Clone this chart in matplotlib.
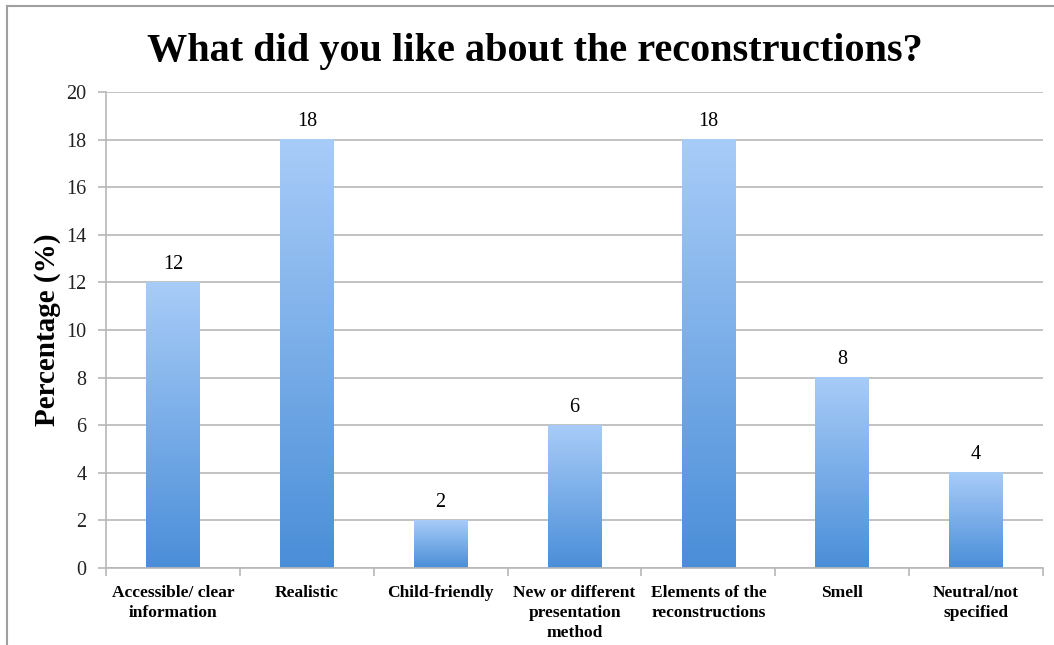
import numpy as np
import matplotlib.pyplot as plt
from matplotlib.colors import LinearSegmentedColormap
from matplotlib.lines import Line2D

plt.rcParams['font.family'] = ['Liberation Serif', 'DejaVu Serif']

categories = ['Accessible/ clear\ninformation', 'Realistic', 'Child-friendly',
              'New or different\npresentation\nmethod', 'Elements of the\nreconstructions',
              'Smell', 'Neutral/not\nspecified']
values = [12, 18, 2, 6, 18, 8, 4]

fig = plt.figure(figsize=(10.54, 6.45), dpi=100)
ax = fig.add_axes([0.1006, 0.1194, 0.8890, 0.7380])

# light at top, darker at bottom
cmap = LinearSegmentedColormap.from_list('bar', ['#4a8ed8', '#a8ccf8'])
grad = np.linspace(0, 1, 256).reshape(-1, 1)
width = 0.4
for i, v in enumerate(values):
    ax.imshow(grad, cmap=cmap, origin='lower', aspect='auto',
              extent=(i - width / 2, i + width / 2, 0, v), zorder=2)
    ax.text(i, v + 0.35, str(v), ha='center', va='bottom', fontsize=14.5)

ax.set_xlim(-0.5, len(values) - 0.5)
ax.set_ylim(0, 20)
ax.set_yticks(range(0, 21, 2))
ax.yaxis.grid(True, color='#b8b8b8', linewidth=1.2)
ax.set_axisbelow(True)
ax.set_xticks(np.arange(-0.5, len(values), 1))
ax.set_xticklabels([])
ax.set_xticks(range(len(values)), minor=True)
ax.set_xticklabels(categories, minor=True, fontsize=12.5, fontweight='bold',
                   linespacing=1.35)
ax.tick_params(axis='x', which='minor', length=0, pad=12)
ax.tick_params(axis='x', which='major', length=6, color='#b8b8b8', width=1.2)
ax.tick_params(axis='y', length=6, color='#b8b8b8', width=1.2, labelsize=14.5,
               pad=8, labelcolor='#222222')
for s in ['top', 'right']:
    ax.spines[s].set_visible(False)
for s in ['left', 'bottom']:
    ax.spines[s].set_color('#b8b8b8')
    ax.spines[s].set_linewidth(1.2)

ax.set_ylabel('Percentage (%)', fontsize=21, fontweight='bold', labelpad=4)
fig.text(0.507, 0.92, 'What did you like about the reconstructions?',
         ha='center', va='center', fontsize=29, fontweight='bold')

# outer frame (left and top edges)
fig.add_artist(Line2D([0.0065, 0.0065], [0, 0.991], color='#a0a0a0', linewidth=1.5))
fig.add_artist(Line2D([0.0065, 1], [0.991, 0.991], color='#a0a0a0', linewidth=1.5))

fig.savefig('out.png', dpi=100)
